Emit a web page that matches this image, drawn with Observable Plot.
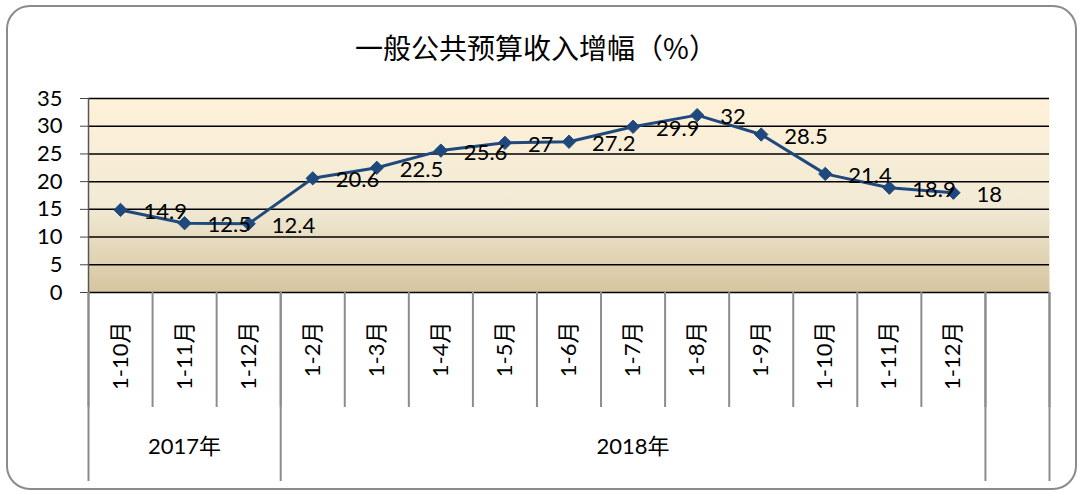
<!DOCTYPE html>
<html>
<head>
<meta charset="utf-8">
<script src="https://cdn.jsdelivr.net/npm/d3@7"></script>
<script src="https://cdn.jsdelivr.net/npm/@observablehq/plot@0.6"></script>
<style>
  html, body { margin: 0; padding: 0; background: #fff; }
  #wrap { position: relative; width: 1078px; height: 492px; overflow: hidden; }
  #wrap svg { position: absolute; left: 0; top: 0; }
  #title { position: absolute; left: 0; width: 1072px; top: 27px; text-align: center;
           font-family: "Noto Sans CJK SC", sans-serif; font-size: 28px; line-height: 40px; color: #000; }
  #border { position: absolute; left: 6px; top: 5px; width: 1071px; height: 485px; box-sizing: border-box;
            border: 2.5px solid #8b8b8b; border-radius: 24px; pointer-events: none; }
</style>
</head>
<body>
<div id="wrap">
  <div id="border"></div>
  <div id="title">一般公共预算收入增幅（%）</div>
</div>
<script>
const categories = ["1-10月","1-11月","1-12月","1-2月","1-3月","1-4月","1-5月","1-6月","1-7月","1-8月","1-9月","1-10月","1-11月","1-12月",""];
const values = [14.9, 12.5, 12.4, 20.6, 22.5, 25.6, 27, 27.2, 29.9, 32, 28.5, 21.4, 18.9, 18];
const years = ["2017年", "2018年"];
const yearStart = [0, 3];
const yearEnd = [3, 14];
const yTicks = [0, 5, 10, 15, 20, 25, 30, 35];

const data = values.map((v, k) => ({pos: k + 0.5, v, label: categories[k]}));
const monthEdges = d3.range(categories.length + 1);
const groupEdges = [0, 3, 14, 15];
const yearData = years.map((t, k) => ({t, pos: (yearStart[k] + yearEnd[k]) / 2}));

const font = "Lato, 'Noto Sans CJK SC', sans-serif";
const navy = "#1F497D";

const chart = Plot.plot({
  width: 1078,
  height: 492,
  marginLeft: 88,
  marginRight: 29,
  marginTop: 98,
  marginBottom: 200,
  style: {fontFamily: font, background: "transparent", color: "#000", overflow: "visible"},
  x: {type: "linear", domain: [0, categories.length], axis: null, label: null},
  y: {domain: [0, 35], axis: null, label: null},
  marks: [
    Plot.frame({fill: "url(#bgGrad)", stroke: null}),
    Plot.gridY(yTicks, {stroke: "#000", strokeOpacity: 1, strokeWidth: 1.5}),
    Plot.ruleX([0], {stroke: "#555", strokeWidth: 1.5}),
    Plot.axisY(yTicks, {label: null, tickSize: 8, tickPadding: 18, fontSize: 22, stroke: "#444"}),
    Plot.axisX(monthEdges, {label: null, tickSize: 115, tickPadding: 0, stroke: "#8c8c8c", strokeWidth: 2, tickFormat: () => ""}),
    Plot.axisX(groupEdges, {label: null, tickSize: 189, tickPadding: 0, stroke: "#8c8c8c", strokeWidth: 2, tickFormat: () => ""}),
    Plot.text(data, {x: "pos", text: "label", frameAnchor: "bottom", rotate: -90, textAnchor: "end", lineAnchor: "middle", dy: 29, fontSize: 22, fill: "#000"}),
    Plot.text(yearData, {x: "pos", text: "t", frameAnchor: "bottom", dy: 161, fontSize: 22, fill: "#000"}),
    Plot.line(data, {x: "pos", y: "v", stroke: navy, strokeWidth: 3}),
    Plot.dot(data, {x: "pos", y: "v", symbol: "diamond2", r: 6, fill: navy, stroke: navy, strokeWidth: 1}),
    Plot.text(data, {x: "pos", y: "v", text: d => String(d.v), dx: 23, dy: 2, textAnchor: "start", fontSize: 22, fill: "#000"})
  ]
});

chart.insertAdjacentHTML("afterbegin",
  '<defs><linearGradient id="bgGrad" x1="0" y1="0" x2="0" y2="1">' +
  '<stop offset="0" stop-color="#FFF1D8"/>' +
  '<stop offset="0.55" stop-color="#F1EAD5"/>' +
  '<stop offset="1" stop-color="#D6C5A0"/>' +
  '</linearGradient></defs>');

document.getElementById("wrap").insertBefore(chart, document.getElementById("border"));
</script>
</body>
</html>
